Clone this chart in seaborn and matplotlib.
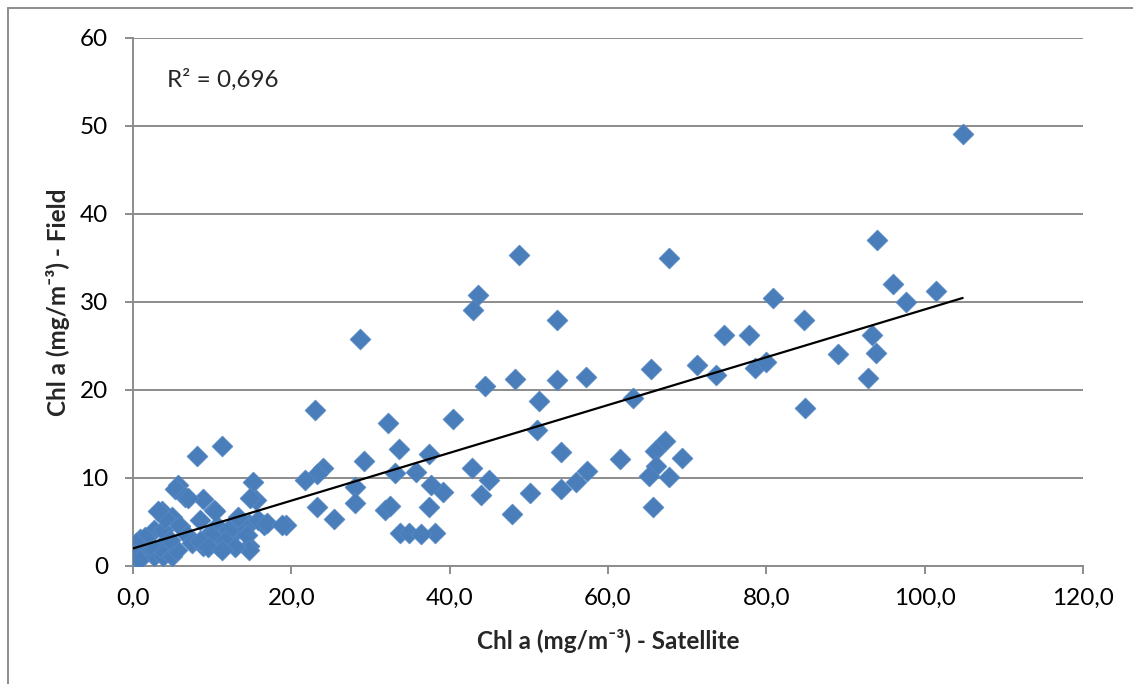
import numpy as np
import pandas as pd
import matplotlib
matplotlib.use("Agg")
import matplotlib.pyplot as plt
from matplotlib.lines import Line2D
import seaborn as sns

# Chlorophyll-a: satellite estimate vs. field measurement (mg/m-3)
satellite = [
    104.8, 94.0, 96.0, 101.4, 97.6, 80.9, 84.7, 93.4, 93.8, 89.0, 92.9, 84.9,
    67.7, 74.7, 77.8, 65.4, 71.2, 73.6, 78.6, 80.0, 63.2, 67.2, 65.9, 69.4,
    66.1, 65.2, 67.7, 65.7, 61.5, 48.8, 43.6, 43.0, 53.5, 44.5, 48.3, 53.6,
    57.2, 51.3, 40.4, 51.0, 54.1, 42.8, 45.0, 39.2, 44.0, 50.2, 54.1, 56.0,
    57.4, 47.9, 38.2, 23.0, 32.2, 33.6, 37.4, 29.2, 24.0, 23.2, 21.7, 33.1,
    35.7, 28.0, 37.7, 23.2, 28.0, 31.8, 32.4, 25.4, 37.4, 33.7, 34.9, 36.4,
    28.7,
    11.2, 8.1, 5.7, 5.3, 6.6, 8.8, 15.1, 15.5, 19.3, 3.6, 10.2, 8.5,
    13.1, 16.5, 14.6, 4.9, 2.6, 0.9, 3.8, 5.9, 6.8, 7.4, 8.9, 10.7,
    11.4, 12.7, 12.9, 14.7, 14.4, 0.0, 0.7, 1.3, 2.6, 3.8, 4.9, 5.5,
    3.4, 2.1, 4.7, 9.7, 10.6, 7.0, 4.0, 3.2, 1.5, 0.4, 0.2, 0.7,
    14.8, 10.4, 13.3, 15.8, 16.9, 18.8, 12.0, 9.9, 8.5, 9.5, 11.6, 14.6,
    12.9, 11.2,
]
field = [
    49.1, 37.0, 32.1, 31.3, 30.0, 30.4, 28.0, 26.2, 24.2, 24.1, 21.4, 18.0,
    35.0, 26.3, 26.2, 22.4, 22.8, 21.7, 22.5, 23.2, 19.1, 14.2, 13.1, 12.3,
    11.4, 10.2, 10.1, 6.7, 12.2, 35.3, 30.8, 29.1, 27.9, 20.4, 21.3, 21.1,
    21.5, 18.7, 16.7, 15.5, 12.9, 11.1, 9.8, 8.4, 8.1, 8.3, 8.7, 9.6,
    10.8, 5.9, 3.8, 17.7, 16.2, 13.3, 12.7, 11.9, 11.1, 10.5, 9.8, 10.6,
    10.7, 9.0, 9.2, 6.7, 7.2, 6.4, 6.8, 5.3, 6.7, 3.8, 3.7, 3.6,
    25.8,
    13.6, 12.5, 9.2, 8.8, 7.8, 7.6, 9.5, 7.5, 4.7, 6.2, 6.4, 5.2,
    5.2, 4.7, 4.8, 5.6, 4.1, 3.1, 4.1, 4.5, 3.5, 2.6, 2.3, 2.3,
    3.5, 3.7, 4.5, 2.3, 3.5, 1.1, 1.4, 1.6, 1.1, 1.1, 1.1, 1.8,
    2.2, 2.4, 3.0, 3.7, 4.5, 7.7, 5.4, 6.2, 3.3, 2.6, 1.4, 0.7,
    7.7, 6.2, 5.6, 5.2, 4.9, 4.7, 4.1, 3.5, 2.8, 2.2, 2.8, 1.8,
    2.2, 1.8,
]

x_ticks = [0, 20, 40, 60, 80, 100, 120]
x_tick_labels = ["0,0", "20,0", "40,0", "60,0", "80,0", "100,0", "120,0"]
y_ticks = [0, 10, 20, 30, 40, 50, 60]
y_tick_labels = ["0", "10", "20", "30", "40", "50", "60"]
r2_text = "R² = 0,696"
x_label = "Chl a (mg/m⁻³) - Satellite"
y_label = "Chl a (mg/m⁻³) - Field"

df = pd.DataFrame({"satellite": satellite, "field": field})

sns.set_theme(style="white")
plt.rcParams["font.family"] = ["Lato", "DejaVu Sans"]

grid_grey = "#8c8c8c"
point_blue = "#4A7EBB"
fs = 17.5

fig = plt.figure(figsize=(11.33, 6.84), dpi=100)
ax = fig.add_axes([133 / 1133, 1 - 566 / 684, (1083 - 133) / 1133, (566 - 38) / 684])

ax.set_axisbelow(True)
ax.yaxis.grid(True, color=grid_grey, linewidth=1.4)
ax.xaxis.grid(False)

sns.scatterplot(data=df, x="satellite", y="field", ax=ax, marker="D", s=115,
                color=point_blue, edgecolor="#5a8cc6", linewidth=0.4, zorder=3)
sns.regplot(data=df, x="satellite", y="field", ax=ax, scatter=False, ci=None,
            truncate=True, line_kws={"color": "black", "linewidth": 1.6, "zorder": 4})

ax.set_xlim(0, 120)
ax.set_ylim(0, 60)
ax.set_xticks(x_ticks)
ax.set_xticklabels(x_tick_labels)
ax.set_yticks(y_ticks)
ax.set_yticklabels(y_tick_labels)
ax.tick_params(axis="both", which="major", direction="out", length=6, width=1.4,
               color=grid_grey, labelsize=fs, labelcolor="black",
               bottom=True, left=True)
ax.tick_params(axis="x", pad=10)
ax.tick_params(axis="y", pad=12)

for side in ["top", "right"]:
    ax.spines[side].set_visible(False)
for side in ["left", "bottom"]:
    ax.spines[side].set_color(grid_grey)
    ax.spines[side].set_linewidth(1.4)

ax.set_xlabel(x_label, fontsize=fs, fontweight="bold", labelpad=14)
ax.set_ylabel(y_label, fontsize=fs, fontweight="bold", labelpad=7)

ax.text(4.3, 55.3, r2_text, fontsize=fs, ha="left", va="center")

# chart-area frame
fx, fy = 8 / 1133, 1 - 8 / 684
fig.add_artist(Line2D([fx, 1.0], [fy, fy], transform=fig.transFigure,
                      color=grid_grey, linewidth=1.4))
fig.add_artist(Line2D([fx, fx], [0.0, fy], transform=fig.transFigure,
                      color=grid_grey, linewidth=1.4))

fig.savefig("out.png", dpi=100)
